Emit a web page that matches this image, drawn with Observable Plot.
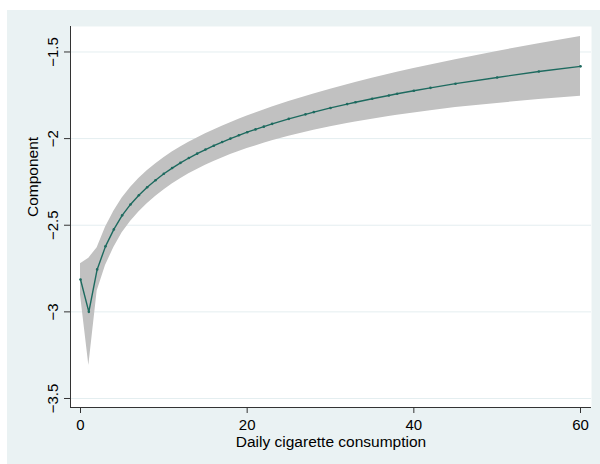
<!DOCTYPE html>
<html><head><meta charset="utf-8">
<script src="https://cdn.jsdelivr.net/npm/d3@7"></script>
<script src="https://cdn.jsdelivr.net/npm/@observablehq/plot@0.6"></script>
<style>
html,body{margin:0;padding:0;background:#fff;}
#chart{position:absolute;left:7px;top:10px;width:593px;height:454px;background:#eaf2f3;}
#chart svg{display:block;}
</style></head><body><div id="chart"></div>
<script>
const cigs = [0,1,2,3,4,5,6,7,8,9,10,11,12,13,14,15,16,17,18,19,20,21,22,23,25,27,28,30,32,33,35,37,38,40,42,45,50,55,60];
const estimate = [-2.813,-3.000,-2.755,-2.622,-2.524,-2.443,-2.380,-2.327,-2.281,-2.240,-2.203,-2.170,-2.140,-2.112,-2.087,-2.063,-2.041,-2.020,-2.000,-1.981,-1.963,-1.947,-1.931,-1.915,-1.886,-1.860,-1.847,-1.823,-1.801,-1.790,-1.770,-1.751,-1.741,-1.724,-1.707,-1.683,-1.647,-1.613,-1.583];
const lower = [-2.903,-3.310,-2.880,-2.732,-2.629,-2.543,-2.478,-2.423,-2.376,-2.334,-2.296,-2.262,-2.232,-2.203,-2.178,-2.154,-2.132,-2.112,-2.092,-2.074,-2.057,-2.042,-2.027,-2.012,-1.986,-1.963,-1.952,-1.931,-1.913,-1.904,-1.888,-1.873,-1.865,-1.852,-1.839,-1.821,-1.797,-1.774,-1.756];
const upper = [-2.723,-2.690,-2.630,-2.512,-2.419,-2.343,-2.282,-2.231,-2.186,-2.146,-2.110,-2.078,-2.048,-2.021,-1.996,-1.972,-1.950,-1.928,-1.908,-1.888,-1.869,-1.852,-1.835,-1.818,-1.786,-1.757,-1.742,-1.715,-1.689,-1.676,-1.652,-1.629,-1.617,-1.596,-1.575,-1.545,-1.497,-1.452,-1.410];
const xTicks = [0,20,40,60];
const yTicks = [-3.5,-3,-2.5,-2,-1.5];
const xTitle = "Daily cigarette consumption";
const yTitle = "Component";
const xDomain = [-1.2, 61.32];
const yDomain = [-3.552, -1.353];

const data = cigs.map((c, i) => ({c, est: estimate[i], lo: lower[i], hi: upper[i]}));
const ink = "#333333";
const teal = "#1d6a5f";
const fmt = d => (d < 0 ? "\u2212" + Math.abs(d) : String(d));

const chart = Plot.plot({
  width: 593, height: 454,
  marginLeft: 63, marginRight: 9, marginTop: 16, marginBottom: 57,
  style: {background: "transparent", fontFamily: "'Liberation Sans', Arial, Helvetica, sans-serif", fontSize: "15px", color: "#000"},
  x: {domain: xDomain, axis: null},
  y: {domain: yDomain, axis: null},
  marks: [
    Plot.frame({fill: "white", stroke: null}),
    Plot.gridY(yTicks, {stroke: "#e4eef0", strokeOpacity: 1, strokeWidth: 1}),
    Plot.areaY(data, {x: "c", y1: "lo", y2: "hi", fill: "#c1c1c1"}),
    Plot.line(data, {x: "c", y: "est", stroke: teal, strokeWidth: 1.4}),
    Plot.dot(data, {x: "c", y: "est", r: 1.3, fill: teal, stroke: null}),
    Plot.ruleX([xDomain[0]], {stroke: ink, strokeWidth: 1}),
    Plot.ruleY([yDomain[0]], {stroke: ink, strokeWidth: 1}),
    Plot.axisX({ticks: xTicks, tickSize: 6, tickPadding: 6, fontSize: 15, label: null, stroke: ink, tickFormat: fmt}),
    Plot.axisY({ticks: yTicks, tickSize: 6, tickPadding: 7, tickRotate: -90, fontSize: 15, label: null, stroke: ink, tickFormat: fmt}),
    Plot.text([xTitle], {frameAnchor: "bottom", dy: 39, lineAnchor: "bottom", text: d => d, fontSize: 15.5, fill: "#000"}),
    Plot.text([yTitle], {frameAnchor: "left", dx: -32.5, rotate: -90, lineAnchor: "bottom", text: d => d, fontSize: 15.5, fill: "#000"})
  ]
});
document.getElementById("chart").appendChild(chart);
</script></body></html>
